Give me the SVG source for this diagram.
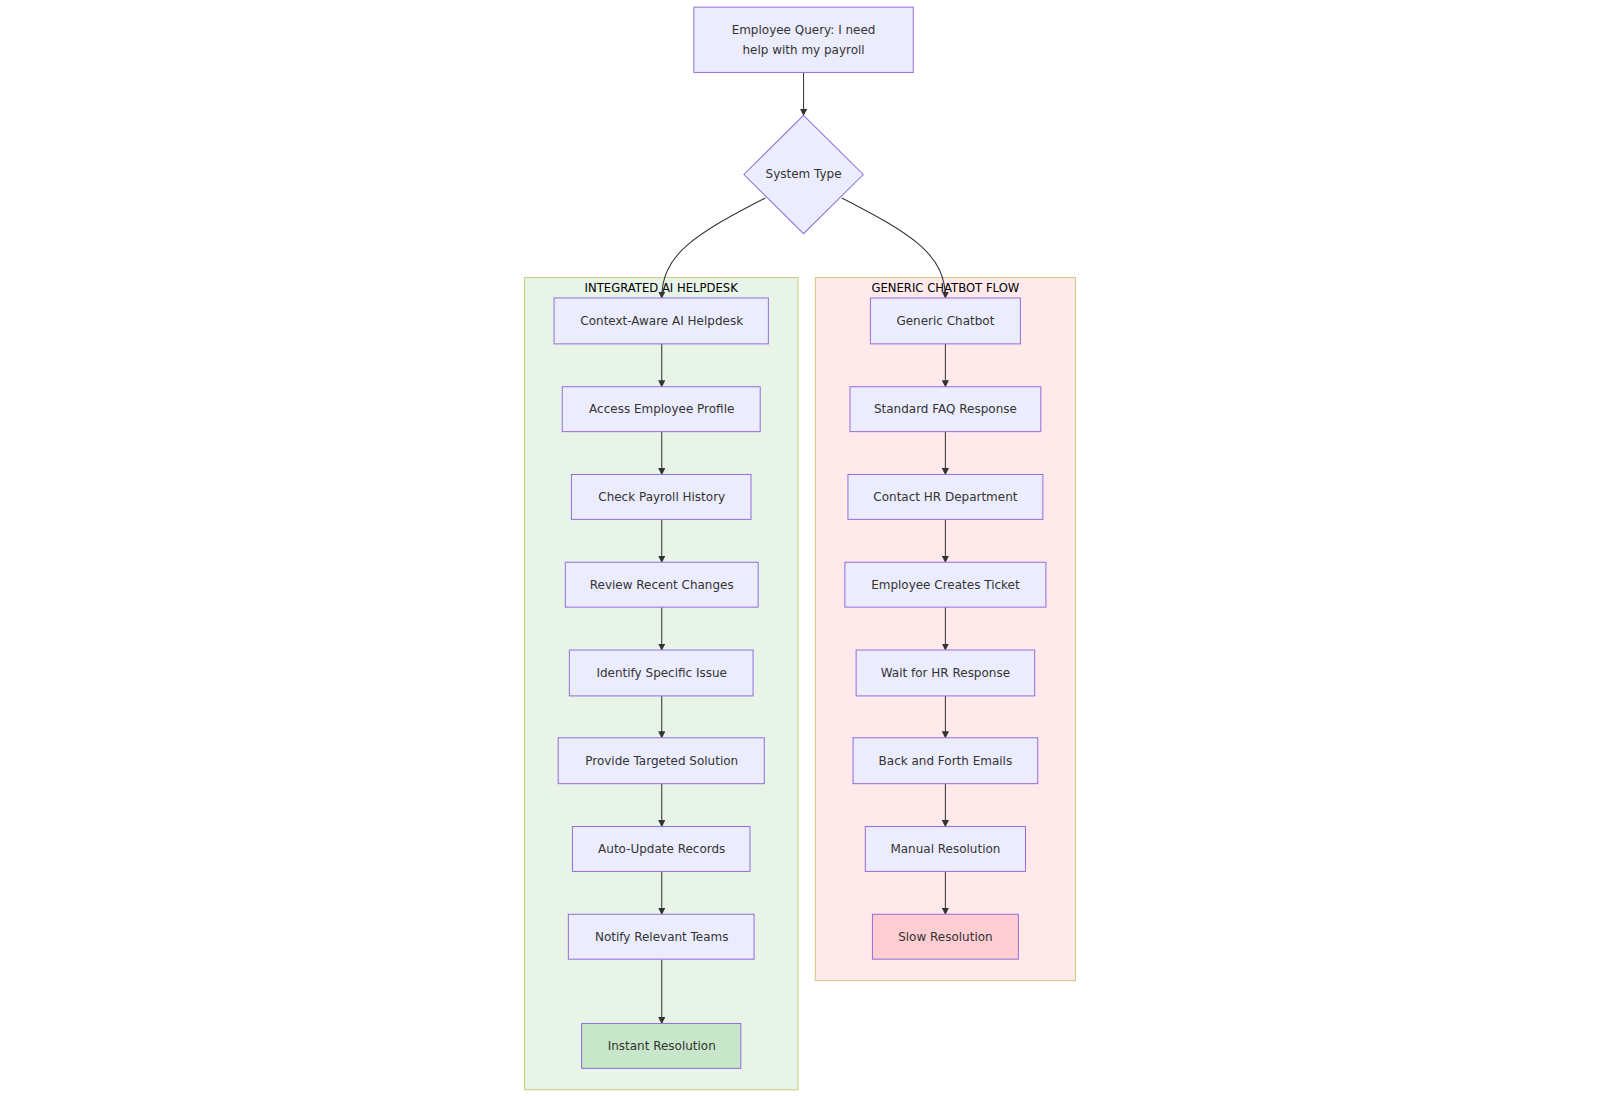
<svg xmlns="http://www.w3.org/2000/svg" width="1600" height="1097" viewBox="0 0 1600 1097">
<defs>
<style>
.node rect,.node polygon{fill:#ECECFF;stroke:#9370DB;stroke-width:1}
.node text,.cl text{font-family:"DejaVu Sans","Liberation Sans",sans-serif;font-size:11.76px;fill:#333;text-anchor:middle;dominant-baseline:central}
.cl text{fill:#000;font-size:11.4px}
.edge{fill:none;stroke:#333;stroke-width:1}
.green rect{fill:#C8E6C9}
.red rect{fill:#FFCDD2}
</style>
<marker id="arr" viewBox="0 0 10 10" refX="9" refY="5" markerWidth="7" markerHeight="7" markerUnits="userSpaceOnUse" orient="auto">
<path d="M0,0 L10,5 L0,10 z" fill="#333"/>
</marker>
</defs>
<rect width="1600" height="1097" fill="#fff"/>
<g transform="scale(1.0204)">
<g id="clusters">
<g id="cluster-ai" class="cl">
<rect x="514" y="272" width="268" height="796" fill="#E8F4E8" stroke="#C7CF7E" stroke-width="1"/>
<text x="648" y="282">INTEGRATED AI HELPDESK</text>
</g>
<g id="cluster-generic" class="cl">
<rect x="799" y="272" width="255" height="689" fill="#FFE9EB" stroke="#D6C585" stroke-width="1"/>
<text x="926.5" y="282">GENERIC CHATBOT FLOW</text>
</g>
</g>
<g id="edges">
<path class="edge" d="M787.5,71 L787.5,113" marker-end="url(#arr)"/>
<path class="edge" d="M750,194 C680,230 648.5,250 648.5,292" marker-end="url(#arr)"/>
<path class="edge" d="M825,194 C895,230 926.5,250 926.5,292" marker-end="url(#arr)"/>
<path class="edge" d="M648.5,337 L648.5,379" marker-end="url(#arr)"/>
<path class="edge" d="M648.5,423 L648.5,465" marker-end="url(#arr)"/>
<path class="edge" d="M648.5,509 L648.5,551" marker-end="url(#arr)"/>
<path class="edge" d="M648.5,595 L648.5,637" marker-end="url(#arr)"/>
<path class="edge" d="M648.5,682 L648.5,723" marker-end="url(#arr)"/>
<path class="edge" d="M648.5,768 L648.5,810" marker-end="url(#arr)"/>
<path class="edge" d="M648.5,854 L648.5,896" marker-end="url(#arr)"/>
<path class="edge" d="M648.5,940 L648.5,1003" marker-end="url(#arr)"/>
<path class="edge" d="M926.5,337 L926.5,379" marker-end="url(#arr)"/>
<path class="edge" d="M926.5,423 L926.5,465" marker-end="url(#arr)"/>
<path class="edge" d="M926.5,509 L926.5,551" marker-end="url(#arr)"/>
<path class="edge" d="M926.5,595 L926.5,637" marker-end="url(#arr)"/>
<path class="edge" d="M926.5,682 L926.5,723" marker-end="url(#arr)"/>
<path class="edge" d="M926.5,768 L926.5,810" marker-end="url(#arr)"/>
<path class="edge" d="M926.5,854 L926.5,896" marker-end="url(#arr)"/>
</g>
<g id="n-query" class="node"><rect x="680" y="7" width="215" height="64"/><text x="787.5" y="29">Employee Query: I need</text><text x="787.5" y="49">help with my payroll</text></g>
<g id="n-system" class="node"><polygon points="787.5,113 846,171 787.5,229 729,171"/><text x="787.5" y="171">System Type</text></g>
<g id="n-a1" class="node"><rect x="543" y="292" width="210" height="45"/><text x="648.5" y="314.5">Context-Aware AI Helpdesk</text></g>
<g id="n-a2" class="node"><rect x="551" y="379" width="194" height="44"/><text x="648.5" y="401">Access Employee Profile</text></g>
<g id="n-a3" class="node"><rect x="560" y="465" width="176" height="44"/><text x="648.5" y="487">Check Payroll History</text></g>
<g id="n-a4" class="node"><rect x="554" y="551" width="189" height="44"/><text x="648.5" y="573">Review Recent Changes</text></g>
<g id="n-a5" class="node"><rect x="558" y="637" width="180" height="45"/><text x="648.5" y="659.5">Identify Specific Issue</text></g>
<g id="n-a6" class="node"><rect x="547" y="723" width="202" height="45"/><text x="648.5" y="745.5">Provide Targeted Solution</text></g>
<g id="n-a7" class="node"><rect x="561" y="810" width="174" height="44"/><text x="648.5" y="832">Auto-Update Records</text></g>
<g id="n-a8" class="node"><rect x="557" y="896" width="182" height="44"/><text x="648.5" y="918">Notify Relevant Teams</text></g>
<g id="n-a9" class="node green"><rect x="570" y="1003" width="156" height="44"/><text x="648.5" y="1025">Instant Resolution</text></g>
<g id="n-g1" class="node"><rect x="853" y="292" width="147" height="45"/><text x="926.5" y="314.5">Generic Chatbot</text></g>
<g id="n-g2" class="node"><rect x="833" y="379" width="187" height="44"/><text x="926.5" y="401">Standard FAQ Response</text></g>
<g id="n-g3" class="node"><rect x="831" y="465" width="191" height="44"/><text x="926.5" y="487">Contact HR Department</text></g>
<g id="n-g4" class="node"><rect x="828" y="551" width="197" height="44"/><text x="926.5" y="573">Employee Creates Ticket</text></g>
<g id="n-g5" class="node"><rect x="839" y="637" width="175" height="45"/><text x="926.5" y="659.5">Wait for HR Response</text></g>
<g id="n-g6" class="node"><rect x="836" y="723" width="181" height="45"/><text x="926.5" y="745.5">Back and Forth Emails</text></g>
<g id="n-g7" class="node"><rect x="848" y="810" width="157" height="44"/><text x="926.5" y="832">Manual Resolution</text></g>
<g id="n-g8" class="node red"><rect x="855" y="896" width="143" height="44"/><text x="926.5" y="918">Slow Resolution</text></g>
</g>
</svg>
